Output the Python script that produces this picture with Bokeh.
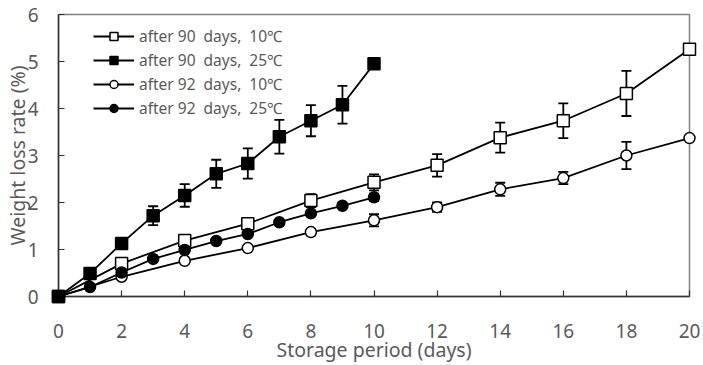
from bokeh.plotting import figure
from bokeh.models import ColumnDataSource, Whisker, TeeHead, Legend, LegendItem, Range1d, FixedTicker
from bokeh.embed import file_html
from bokeh.resources import INLINE

# Storage days for each test series
days_10c = [0, 2, 4, 6, 8, 10, 12, 14, 16, 18, 20]
days_25c = [0, 1, 2, 3, 4, 5, 6, 7, 8, 9, 10]

# Weight loss rate (%) and standard deviation
loss_90d_10c = [0, 0.70, 1.19, 1.55, 2.04, 2.43, 2.79, 3.38, 3.74, 4.32, 5.26]
sd_90d_10c = [0, 0, 0.04, 0.07, 0.14, 0.17, 0.24, 0.32, 0.37, 0.48, 0]

loss_90d_25c = [0, 0.49, 1.13, 1.72, 2.15, 2.61, 2.83, 3.40, 3.74, 4.08, 4.95]
sd_90d_25c = [0, 0, 0.05, 0.20, 0.24, 0.30, 0.32, 0.36, 0.33, 0.40, 0]

loss_92d_10c = [0, 0.42, 0.76, 1.03, 1.37, 1.62, 1.90, 2.28, 2.52, 3.00, 3.37]
sd_92d_10c = [0, 0, 0, 0, 0.07, 0.13, 0.10, 0.14, 0.13, 0.29, 0]

loss_92d_25c = [0, 0.20, 0.51, 0.80, 0.99, 1.18, 1.33, 1.58, 1.77, 1.93, 2.11]
sd_92d_25c = [0, 0, 0, 0, 0, 0, 0, 0, 0, 0, 0.08]

labels = ["after 90  days,  10\u2103", "after 90  days,  25\u2103",
          "after 92  days,  10\u2103", "after 92  days,  25\u2103"]

x_ticks = [0, 2, 4, 6, 8, 10, 12, 14, 16, 18, 20]
y_ticks = [0, 1, 2, 3, 4, 5, 6]

FONT = "Noto Sans"
TEXT = "#5a5a5a"

p = figure(width=703, height=365, output_backend="svg", toolbar_location=None,
           x_range=Range1d(0, 20), y_range=Range1d(0, 6),
           min_border_left=57, min_border_right=14, min_border_top=14, min_border_bottom=69)
p.grid.visible = False
p.outline_line_color = "#808080"
p.outline_line_width = 1.5
p.background_fill_color = "white"
p.border_fill_color = "white"

for ax in (p.xaxis[0], p.yaxis[0]):
    ax.major_tick_in = 6
    ax.major_tick_out = 0
    ax.minor_tick_line_color = None
    ax.axis_line_color = "#333333"
    ax.axis_line_width = 1.5
    ax.major_tick_line_color = "#333333"
    ax.major_tick_line_width = 1.2
    ax.major_label_text_font = FONT
    ax.major_label_text_font_size = "19px"
    ax.major_label_text_color = TEXT
    ax.axis_label_text_font = FONT
    ax.axis_label_text_font_size = "19.5px"
    ax.axis_label_text_font_style = "normal"
    ax.axis_label_text_color = TEXT

p.xaxis[0].ticker = FixedTicker(ticks=x_ticks)
p.yaxis[0].ticker = FixedTicker(ticks=y_ticks)
p.xaxis[0].axis_label = "Storage period (days)"
p.yaxis[0].axis_label = "Weight loss rate (%)"
p.xaxis[0].major_label_standoff = 27
p.xaxis[0].axis_label_standoff = -5
p.yaxis[0].major_label_standoff = 20
p.yaxis[0].axis_label_standoff = -6

series = [
    (days_10c, loss_90d_10c, sd_90d_10c, "square", "white", 12),
    (days_25c, loss_90d_25c, sd_90d_25c, "square", "black", 12),
    (days_10c, loss_92d_10c, sd_92d_10c, "circle", "white", 11),
    (days_25c, loss_92d_25c, sd_92d_25c, "circle", "black", 11),
]

items = []
for (xs, ys, sd, marker, fill, size), label in zip(series, labels):
    upper = [y + e if e > 0 else float("nan") for y, e in zip(ys, sd)]
    lower = [y - e if e > 0 else float("nan") for y, e in zip(ys, sd)]
    src = ColumnDataSource(dict(x=xs, y=ys, upper=upper, lower=lower))
    w = Whisker(source=src, base="x", upper="upper", lower="lower",
                line_color="black", line_width=1.8, level="underlay",
                upper_head=TeeHead(size=10, line_color="black", line_width=1.8),
                lower_head=TeeHead(size=10, line_color="black", line_width=1.8))
    p.add_layout(w)
    ln = p.line("x", "y", source=src, line_color="black", line_width=1.8)
    # markers sit on the frame edges at day 0 and day 20, so draw them unclipped
    sc = p.scatter("x", "y", source=src, marker=marker, size=size,
                   fill_color=fill, line_color="black", line_width=1.5, level="annotation")
    items.append(LegendItem(label=label, renderers=[ln, sc]))

legend = Legend(items=items, location=(35, 177), orientation="vertical",
                glyph_width=41, glyph_height=20, label_height=20, spacing=2,
                padding=0, margin=0, label_standoff=5,
                label_text_font=FONT, label_text_font_size="15.5px", label_text_color=TEXT,
                background_fill_alpha=0, border_line_color=None)
p.add_layout(legend)

open("out.html", "w").write(file_html(p, INLINE))
